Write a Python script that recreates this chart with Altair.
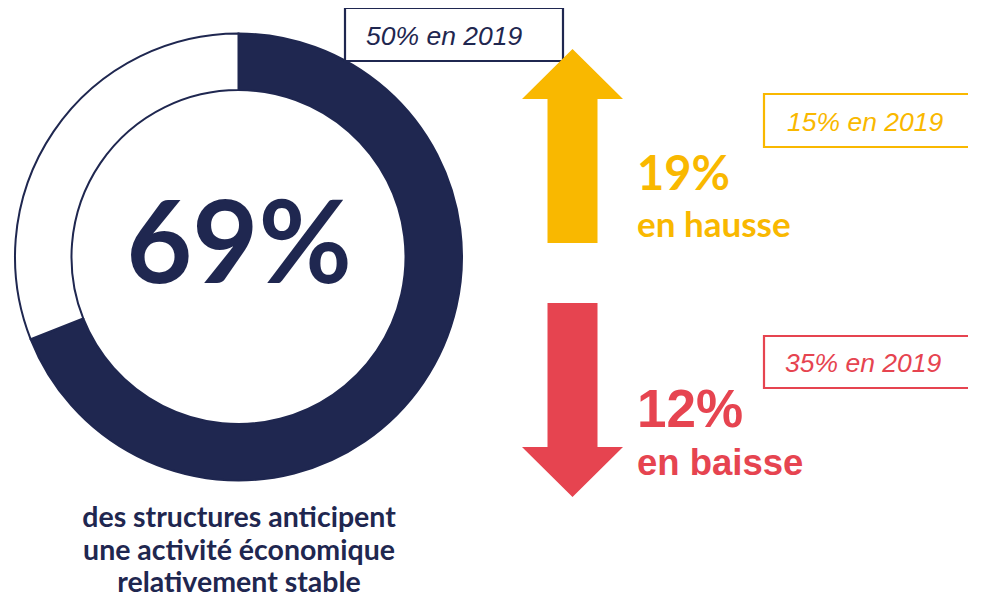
import altair as alt
import pandas as pd

# ---- data ----
stable_share = [69, 31]            # % anticipant une activité stable / reste
stable_parts = ["stable", "autre"]
trend_keys = ["hausse", "baisse"]
trend_2021 = [19, 12]
trend_2019 = [15, 35]
stable_2019 = 50
caption_lines = ["des structures anticipent", "une activité économique", "relativement stable"]

NAVY = "#1f2750"
YELLOW = "#f9b800"
RED = "#e64450"
WHITE = "#ffffff"

# ---- layout (page pixel coordinates) ----
W, H = 960, 590
xs = alt.Scale(domain=[8, 8 + W])
ys = alt.Scale(domain=[8, 8 + H], reverse=True)
donut_cx, donut_cy = 238.5 - 8, 257 - 8

donut_df = pd.DataFrame({"part": stable_parts, "value": stable_share, "ord": [0, 1]})

donut = alt.Chart(donut_df).mark_arc(
    radius=223.5, radius2=167, x=donut_cx, y=donut_cy, stroke=NAVY, strokeWidth=2
).encode(
    theta=alt.Theta("value:Q", stack=True),
    order=alt.Order("ord:Q"),
    color=alt.Color("part:N", scale=alt.Scale(domain=stable_parts, range=[NAVY, WHITE]), legend=None),
)

# boxes for 2019 values
box_df = pd.DataFrame({
    "key": ["stable", "hausse", "baisse"],
    "x0": [345, 764, 764], "x1": [563, 1000, 1000],
    "y0": [8, 94, 336], "y1": [61, 147, 388],
    "tx": [366, 787, 785], "ty": [45, 131, 372],
    "label": [f"{stable_2019}% en 2019", f"{trend_2019[0]}% en 2019", f"{trend_2019[1]}% en 2019"],
})
col_scale = alt.Scale(domain=["stable", "hausse", "baisse"], range=[NAVY, YELLOW, RED])

boxes = alt.Chart(box_df).mark_rect(fill=WHITE, strokeWidth=2.2, clip=True).encode(
    x=alt.X("x0:Q", scale=xs, axis=None), x2="x1:Q",
    y=alt.Y("y0:Q", scale=ys, axis=None), y2="y1:Q",
    stroke=alt.Color("key:N", scale=col_scale, legend=None),
)
box_text = alt.Chart(box_df).mark_text(
    font="Liberation Sans", fontStyle="italic", fontSize=26.5, align="left", baseline="alphabetic"
).encode(
    x=alt.X("tx:Q", scale=xs, axis=None), y=alt.Y("ty:Q", scale=ys, axis=None),
    text="label:N",
    color=alt.Color("key:N", scale=col_scale, legend=None),
)

# arrows
UP = "M0,-0.97 L0.505,-0.47 L0.25,-0.47 L0.25,0.97 L-0.25,0.97 L-0.25,-0.47 L-0.505,-0.47 Z"
DOWN = "M0,0.97 L0.505,0.47 L0.25,0.47 L0.25,-0.97 L-0.25,-0.97 L-0.25,0.47 L-0.505,0.47 Z"
arrow_df = pd.DataFrame({"key": trend_keys, "cx": [572.5, 572.5], "cy": [146, 400]})
arrows = alt.Chart(arrow_df).mark_point(filled=True, opacity=1, size=40000, strokeWidth=0).encode(
    x=alt.X("cx:Q", scale=xs, axis=None), y=alt.Y("cy:Q", scale=ys, axis=None),
    shape=alt.Shape("key:N", scale=alt.Scale(domain=trend_keys, range=[UP, DOWN]), legend=None),
    color=alt.Color("key:N", scale=col_scale, legend=None),
)

# big central value
big_df = pd.DataFrame({"label": [f"{stable_share[0]}%"], "x": [239], "y": [283]})
big = alt.Chart(big_df).mark_text(
    font="Lato", fontWeight="bold", fontSize=114, color=NAVY, align="center", baseline="alphabetic"
).encode(x=alt.X("x:Q", scale=xs, axis=None), y=alt.Y("y:Q", scale=ys, axis=None), text="label:N")

cap_df = pd.DataFrame({"label": caption_lines, "x": [239, 239, 239], "y": [527, 560, 592]})
caption = alt.Chart(cap_df).mark_text(
    font="Lato", fontWeight="bold", fontSize=28.5, color=NAVY, align="center", baseline="alphabetic"
).encode(x=alt.X("x:Q", scale=xs, axis=None), y=alt.Y("y:Q", scale=ys, axis=None), text="label:N")

up_df = pd.DataFrame({"label": [f"{trend_2021[0]}%", "en hausse"], "x": [637, 637], "y": [190, 237], "fs": [47, 35]})
up_txt = alt.Chart(up_df).mark_text(
    font="Lato", fontWeight="bold", color=YELLOW, align="left", baseline="alphabetic"
).encode(
    x=alt.X("x:Q", scale=xs, axis=None), y=alt.Y("y:Q", scale=ys, axis=None), text="label:N",
    size=alt.Size("fs:Q", scale=None, legend=None),
)

down_df = pd.DataFrame({"label": [f"{trend_2021[1]}%", "en baisse"], "x": [637, 637], "y": [427, 475], "fs": [53, 36.5]})
down_txt = alt.Chart(down_df).mark_text(
    font="Liberation Sans", fontWeight="bold", color=RED, align="left", baseline="alphabetic"
).encode(
    x=alt.X("x:Q", scale=xs, axis=None), y=alt.Y("y:Q", scale=ys, axis=None), text="label:N",
    size=alt.Size("fs:Q", scale=None, legend=None),
)

chart = alt.layer(donut, boxes, box_text, arrows, big, caption, up_txt, down_txt).resolve_scale(
    color="independent", shape="independent"
).properties(
    width=W, height=H, padding=0, autosize=alt.AutoSizeParams(type="none")
).configure_view(stroke=None)

chart.save("out.html", embed_options={"renderer": "svg", "actions": False})
